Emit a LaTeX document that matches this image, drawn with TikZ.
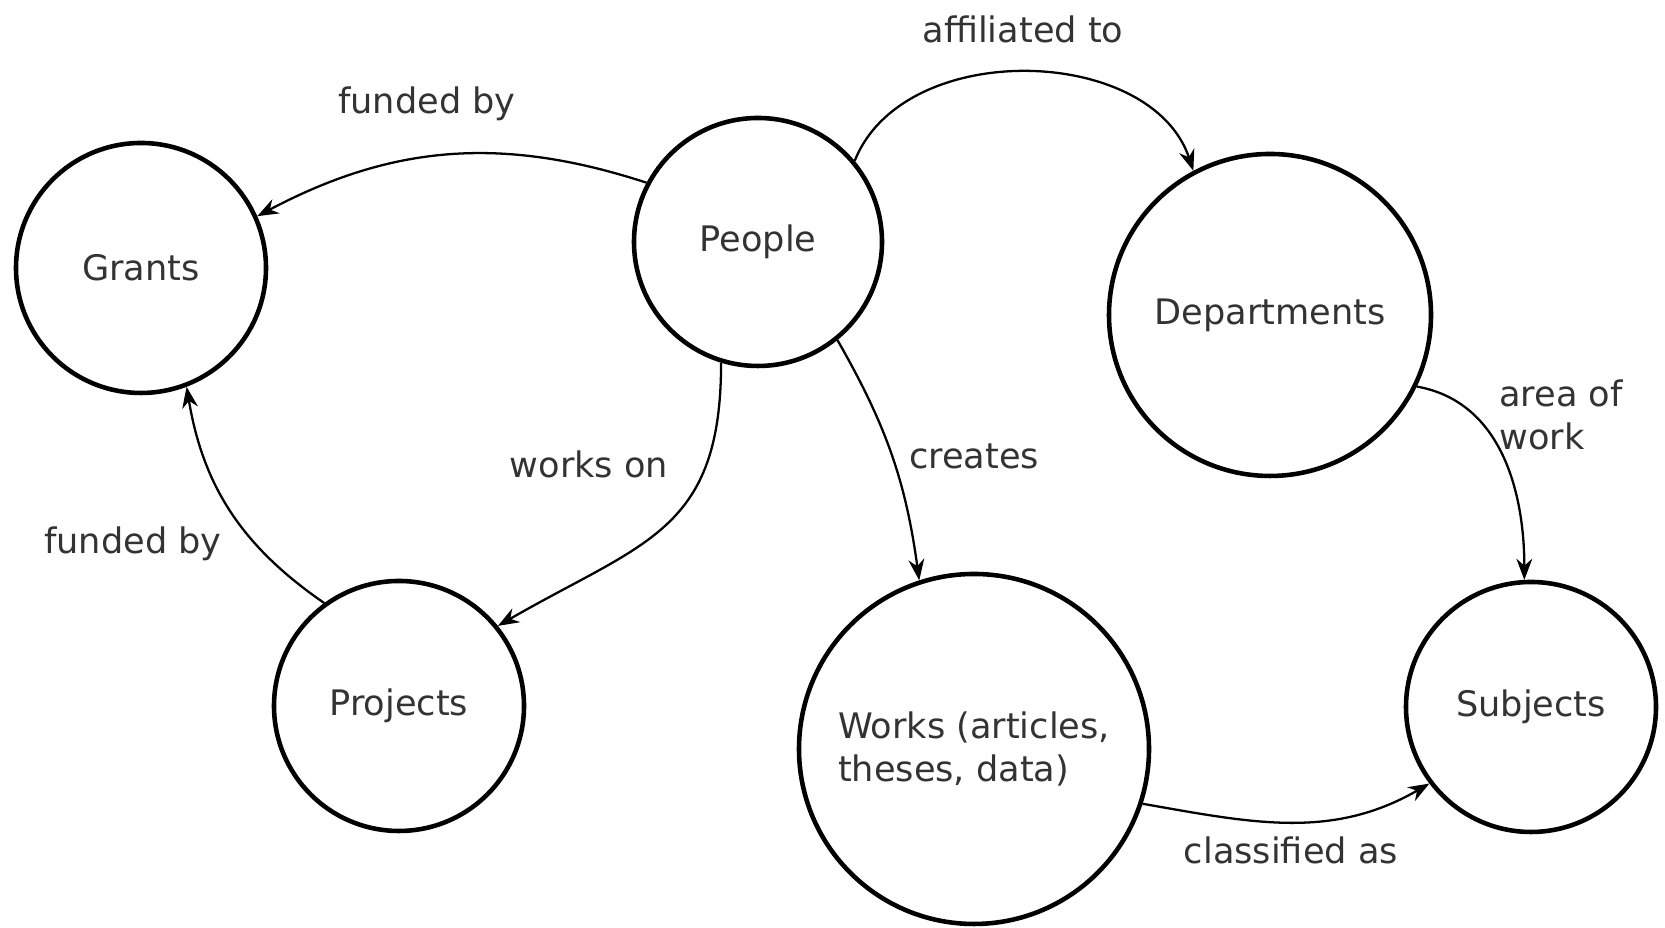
\documentclass[tikz,border=0pt]{standalone}
\usepackage{fontspec}
\setmainfont{DejaVu Sans}
\usetikzlibrary{arrows.meta}

\begin{document}
\begin{tikzpicture}[
    entity/.style={circle, draw, line width=1.3pt, inner sep=0pt, text=black!80},
    rel/.style={-{Stealth[length=6pt,width=4.5pt]}, line width=0.65pt},
    lbl/.style={text=black!80, inner sep=1pt}
  ]
    \useasboundingbox (0,0) rectangle (16.65,9.28);

    \node[entity, minimum size=2.5cm] (grants) at (1.41,6.60) {Grants};
    \node[entity, minimum size=2.48cm] (people) at (7.58,6.86) {People};
    \node[entity, minimum size=3.22cm] (depts) at (12.70,6.13) {Departments};
    \node[entity, minimum size=2.5cm] (projects) at (3.99,2.22) {Projects};
    \node[entity, minimum size=3.5cm, align=left] (works) at (9.74,1.79) {Works (articles,\\theses, data)};
    \node[entity, minimum size=2.5cm] (subjects) at (15.31,2.21) {Subjects};

    \draw[rel] (people.152) to[bend right=23] (grants.24);
    \draw[rel] (people.40) to[bend left=70] (depts.118);
    \draw[rel] (people.253) to[out=-90, in=30, looseness=1.25] (projects.39);
    \draw[rel] (projects.126) to[bend left=23] (grants.291);
    \draw[rel] (people.-51) to[bend left=11] (works.108);
    \draw[rel] (depts.-26) to[out=-10, in=90] (subjects.93);
    \draw[rel] (works.-18) to[out=-10, in=-150] (subjects.217);

    \node[lbl] (fundedtop) at (4.27,8.24) {funded by};
    \node[lbl] (affil) at (10.23,8.99) {affiliated to};
    \node[lbl] (workson) at (5.89,4.64) {works on};
    \node[lbl] (fundedleft) at (1.33,3.84) {funded by};
    \node[lbl] (creates) at (9.74,4.72) {creates};
    \node[lbl, align=left] (area) at (15.61,5.13) {area of\\work};
    \node[lbl] (classified) at (12.91,0.78) {classified as};
\end{tikzpicture}
\end{document}
